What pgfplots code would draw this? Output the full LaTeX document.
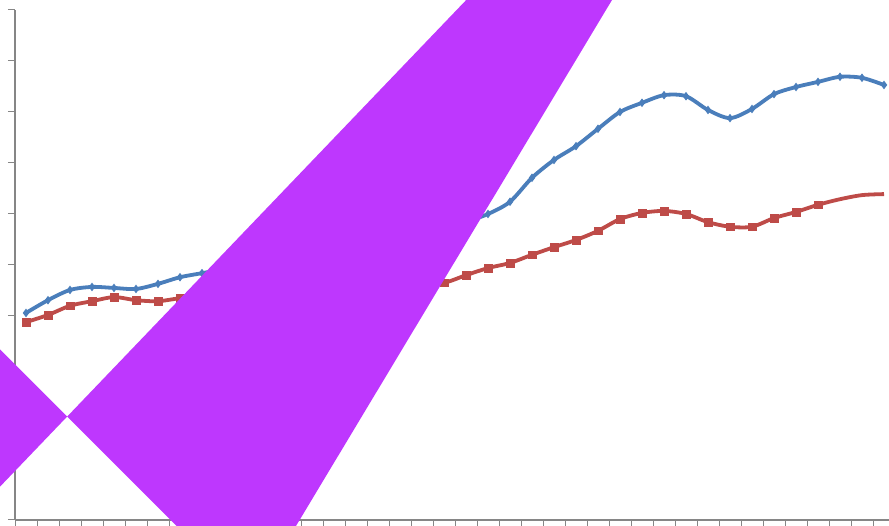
\documentclass[border=0pt]{standalone}
\usepackage{pgfplots}
\pgfplotsset{compat=1.18}

\definecolor{lineblue}{HTML}{4A7EBB}
\definecolor{linered}{HTML}{BE4B48}
\definecolor{axgray}{HTML}{868686}
\definecolor{patch}{HTML}{BE37FE}

\begin{document}
\begin{tikzpicture}
\begin{axis}[
    set layers,
    at={(0pt,0pt)}, anchor=south west,
    scale only axis,
    width=880pt, height=510pt,
    xmin=-0.5, xmax=39.5,
    ymin=0, ymax=100,
    clip=false,
    axis x line=bottom, axis y line=left,
    axis line style={-, draw=axgray, line width=1.5pt},
    xtick={-0.5,0.5,...,39.5}, xticklabels={},
    ytick={0,10,...,100}, yticklabels={},
    tick align=outside,
    major tick length=7pt,
    tick style={draw=axgray, line width=1pt},
]

% series 1 (blue, diamonds)
\addplot[color=lineblue, line width=3.8pt, smooth, tension=0.5,
         mark=diamond*, mark size=3.5pt, mark options={solid, fill=lineblue, line width=1pt}]
coordinates {
    (0,40.6) (1,43.1) (2,45.1) (3,45.7) (4,45.5) (5,45.3) (6,46.3) (7,47.6)
    (8,48.4) (9,49.2) (10,50.0) (11,51.0) (12,52.0) (13,53.0) (14,53.8)
    (15,54.5) (16,55.2) (17,56.0) (18,56.8) (19,57.6) (20,58.5) (21,60.0)
    (22,62.4) (23,67.1) (24,70.6) (25,73.3) (26,76.7) (27,80.0) (28,81.8)
    (29,83.3) (30,83.1) (31,80.4) (32,78.8) (33,80.6) (34,83.5) (35,84.9)
    (36,85.9) (37,86.9) (38,86.7) (39,85.3)
};

% series 2 (red, squares) - line
\addplot[color=linered, line width=3.8pt, smooth, tension=0.5, no marks]
coordinates {
    (0,38.8) (1,40.2) (2,42.0) (3,42.9) (4,43.7) (5,43.1) (6,42.9) (7,43.5)
    (8,44.0) (9,44.3) (10,44.6) (11,44.9) (12,45.1) (13,45.3) (14,45.5)
    (15,45.7) (16,45.9) (17,46.1) (18,46.3) (19,46.5) (20,48.0) (21,49.4)
    (22,50.4) (23,52.0) (24,53.5) (25,54.9) (26,56.7) (27,59.0) (28,60.2)
    (29,60.6) (30,60.0) (31,58.4) (32,57.5) (33,57.5) (34,59.2) (35,60.4)
    (36,61.8) (37,62.9) (38,63.7) (39,63.9)
};
% series 2 markers (last three points have none)
\addplot[only marks, mark=square*, mark size=3.8pt, color=linered]
coordinates {
    (0,38.8) (1,40.2) (2,42.0) (3,42.9) (4,43.7) (5,43.1) (6,42.9) (7,43.5)
    (8,44.0) (9,44.3) (10,44.6) (11,44.9) (12,45.1) (13,45.3) (14,45.5)
    (15,45.7) (16,45.9) (17,46.1) (18,46.3)
    (19,46.5) (20,48.0) (21,49.4) (22,50.4) (23,52.0) (24,53.5) (25,54.9)
    (26,56.7) (27,59.0) (28,60.2) (29,60.6) (30,60.0) (31,58.4) (32,57.5)
    (33,57.5) (34,59.2) (35,60.4) (36,61.8)
};

% purple overlay shape, above everything
\addplot[draw=none, fill=patch, on layer=axis foreground] coordinates {
    (-1.409,34.45) (7.077,-2.157) (12.136,-2.157)
    (26.773,102.94) (20.227,102.94) (-1.409,5.51)
} -- cycle;

\end{axis}
\pgfresetboundingbox
\useasboundingbox (-15pt,-6pt) rectangle (874pt,520pt);
\end{tikzpicture}
\end{document}
